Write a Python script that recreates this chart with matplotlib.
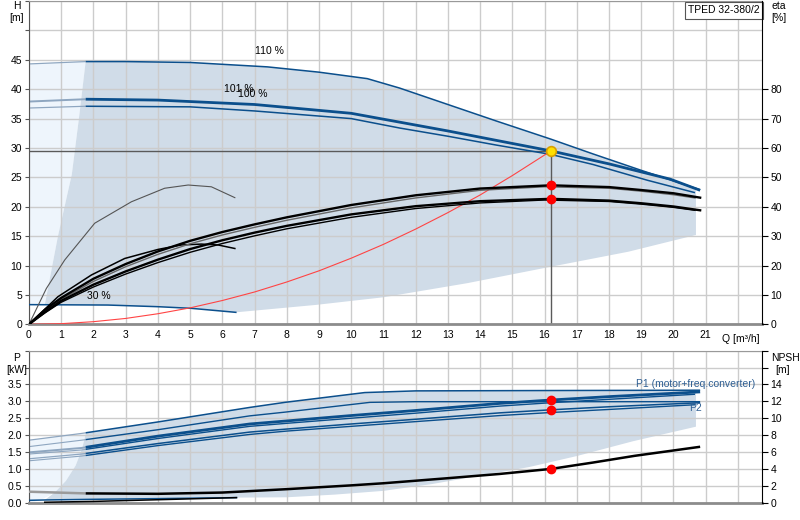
import numpy as np
import matplotlib.pyplot as plt

plt.rcParams['font.family'] = ['Liberation Sans', 'DejaVu Sans']
plt.rcParams['font.size'] = 7.5

BLUE = '#0b4f8c'
LIGHT = '#8ea6c0'
SHADE = '#d0dce8'
PALE = '#eef5fc'
GRID = '#cccccc'

# ---------------- H-Q curves [m] ----------------
q110 = [0, 1.76, 3, 5, 7.4, 9, 10.5, 11.5, 13, 14.5, 16.2, 17.5, 19, 20.83]
h110 = [44.3, 44.7, 44.7, 44.55, 43.8, 42.9, 41.8, 40.2, 37.4, 34.6, 31.5, 29.0, 26.2, 22.9]
q101 = [0, 1.76, 4, 7, 10, 11.5, 13, 14.5, 16.2, 18, 19.9, 20.83]
h101 = [37.9, 38.3, 38.15, 37.4, 35.9, 34.4, 32.9, 31.3, 29.5, 27.3, 24.7, 22.8]
q100 = [0, 1.76, 5, 7, 10, 11.5, 13, 14.5, 16.2, 17.5, 19.2, 20.67]
h100 = [36.8, 37.1, 37.0, 36.3, 35.0, 33.4, 32.0, 30.5, 28.9, 27.2, 24.5, 22.4]
q30 = [0, 1, 2.45, 4, 5.04, 6.42]
h30 = [3.35, 3.32, 3.28, 3.0, 2.72, 2.04]

# system curve
q_sys = [0, 1, 2, 3, 4, 5, 6, 7, 8, 9, 10, 11, 12, 13, 14, 15, 16.2]
h_sys = [0, 0.11, 0.45, 1.0, 1.8, 2.8, 4.05, 5.5, 7.2, 9.1, 11.25, 13.6, 16.2, 19.0, 22.0, 25.3, 29.5]

# operating range limits (top)
bq_top = [0.49, 0.9, 1.33, 1.55, 1.76]
bh_top = [3.3, 15, 25.5, 35, 44.7]
eq_top = [6.42, 8.9, 11, 13.6, 16.2, 18.6, 20.7]
eh_top = [2.04, 3.3, 4.6, 7.0, 9.8, 12.35, 15.2]

# ---------------- efficiency [%] ----------------
q_eta_a = [0, 0.5, 1, 2, 3, 4, 5, 6, 7, 8, 10, 12, 14, 16.2, 18, 19, 20, 20.83]
eta_a = [0, 5, 9, 15.5, 20.5, 24.8, 28.4, 31.4, 34.0, 36.4, 40.6, 43.9, 46.2, 47.3, 46.7, 45.7, 44.6, 43.1]
q_eta_b = [0, 0.5, 1, 2, 3, 4, 5, 6, 7, 8, 10, 12, 14, 16, 18, 19, 20, 20.67]
eta_b = [0, 4.6, 8.5, 14.6, 19.6, 23.8, 27.4, 30.4, 33.0, 35.4, 39.6, 43.0, 45.6, 46.8, 46.3, 45.3, 44.1, 43.0]
q_eta_c = [0, 0.5, 1, 2, 3, 4, 5, 6, 7, 8, 10, 12, 14, 16.2, 18, 19, 20, 20.83]
eta_c = [0, 4.2, 8, 13.5, 18, 22, 25.6, 28.6, 31.2, 33.5, 37.4, 40.2, 41.9, 42.7, 42.1, 41.2, 40.1, 38.8]
q_eta_d = [0, 0.5, 1, 2, 3, 4, 5, 6, 7, 8, 10, 12, 14, 16, 18, 19, 20, 20.67]
eta_d = [0, 3.9, 7.5, 12.7, 17.1, 21, 24.5, 27.5, 30.1, 32.5, 36.4, 39.4, 41.3, 42.3, 41.8, 40.9, 39.8, 38.8]
q_hump1 = [0, 0.54, 1.11, 2.04, 3.18, 4.21, 4.94, 5.66, 6.39]
eta_hump1 = [0, 12.2, 21.9, 34.4, 41.7, 46.3, 47.4, 46.8, 43.1]
q_hump2 = [0, 0.9, 1.94, 2.97, 4.01, 4.73, 5.35, 5.87, 6.39]
eta_hump2 = [0, 9.4, 16.8, 22.4, 25.5, 27.0, 27.3, 27.0, 25.8]

# ---------------- power [kW] ----------------
qp110_1 = [0, 1.63, 4, 6.85, 7.94, 10.42, 12, 16, 20.83]
p110_1 = [1.85, 2.05, 2.39, 2.82, 2.97, 3.26, 3.31, 3.32, 3.33]
qp110_2 = [0, 1.63, 4, 6.85, 7.94, 10.58, 12, 16, 20.83]
p110_2 = [1.66, 1.85, 2.16, 2.57, 2.68, 2.97, 2.99, 2.99, 2.99]
qp101 = [0, 1.63, 4, 6.85, 8, 10, 12, 14.62, 16.2, 18, 20.83]
p101_1 = [1.49, 1.62, 1.97, 2.33, 2.42, 2.58, 2.73, 2.94, 3.04, 3.14, 3.28]
p101_2 = [1.30, 1.44, 1.75, 2.09, 2.18, 2.33, 2.47, 2.66, 2.75, 2.84, 2.96]
qp100 = [0, 1.63, 4, 6.85, 8, 10, 12, 14.62, 16.2, 18, 20.67]
p100_1 = [1.44, 1.56, 1.90, 2.26, 2.35, 2.50, 2.65, 2.86, 2.96, 3.06, 3.21]
p100_2 = [1.24, 1.38, 1.69, 2.02, 2.12, 2.26, 2.40, 2.58, 2.67, 2.76, 2.90]
qp30 = [0, 0.49, 2, 4, 6.44]
p30 = [0.07, 0.08, 0.10, 0.12, 0.15]

bq_bot = [0.1, 0.45, 0.8, 1.15, 1.45, 1.65, 1.76]
bp_bot = [0, 0.12, 0.3, 0.65, 1.1, 1.6, 2.03]
eq_bot = [6.44, 8, 9.5, 11, 12.5, 14, 15.5, 17, 18.75, 20.7]
ep_bot = [0.15, 0.16, 0.24, 0.35, 0.55, 0.8, 1.05, 1.38, 1.82, 2.25]

# ---------------- NPSH [m] ----------------
q_npsh = [0, 1.76, 4, 6, 8, 10, 11, 13, 14.6, 16.2, 17.5, 18.8, 20.83]
npsh = [1.3, 1.1, 1.05, 1.2, 1.6, 2.05, 2.3, 2.9, 3.4, 4.0, 4.75, 5.55, 6.62]
q_npsh30 = [0.49, 2, 4, 6.44]
npsh30 = [0.05, 0.15, 0.35, 0.6]

# duty point
q_duty = 16.2
h_duty = 29.5
eta_duty = [47.3, 42.7]
p_duty = [3.04, 2.75]
npsh_duty = 4.02

q_min = 1.76
q_max = 20.7
xmax = 22.75


def split_plot(ax, q, v, color, lw, light=LIGHT, light_lw=None):
    q = np.asarray(q, float)
    v = np.asarray(v, float)
    vc = np.interp(q_min, q, v)
    lo = q < q_min
    ax.plot(np.r_[q[lo], q_min], np.r_[v[lo], vc], color=light,
            lw=light_lw or lw * 0.8, solid_capstyle='butt', zorder=2)
    hi = q > q_min
    ax.plot(np.r_[q_min, q[hi]], np.r_[vc, v[hi]], color=color, lw=lw,
            solid_capstyle='butt', zorder=3)


def shade_polygon(qt, vt, eq, ev, qb, vb, bq, bv):
    # top curve from q_min to q_max, right edge, bottom edge, low curve, boundary
    qt = np.asarray(qt, float); vt = np.asarray(vt, float)
    inner = (qt > q_min) & (qt < q_max)
    top_q = np.r_[q_min, qt[inner], q_max]
    top_v = np.interp(top_q, qt, vt)
    qb = np.asarray(qb, float); vb = np.asarray(vb, float)
    inb = (qb > bq[0]) & (qb < eq[0])
    low_q = np.r_[bq[0], qb[inb], eq[0]]
    low_v = np.interp(low_q, qb, vb)
    xs = np.r_[top_q, eq[::-1], low_q[::-1], bq]
    ys = np.r_[top_v, ev[::-1], low_v[::-1], bv]
    return xs, ys


def style_axes(ax):
    ax.set_xlim(0, xmax)
    ax.set_xticks(np.arange(0, 23, 1))
    ax.set_axisbelow(True)
    ax.grid(True, color=GRID, lw=1.0)
    ax.spines['left'].set_color('#555555')
    ax.spines['top'].set_color('#999999')
    ax.spines['bottom'].set_color('#8c8c8c')
    ax.spines['bottom'].set_linewidth(2)
    ax.spines['right'].set_visible(False)
    ax.tick_params(axis='x', length=0, pad=4)
    ax.tick_params(axis='y', length=3, width=0.8, color='#555555', pad=2)


fig = plt.figure(figsize=(8, 5.2), dpi=100)

# ================= top panel =================
ax = fig.add_axes([0.0362, 0.3763, 0.9163, 0.6217])
style_axes(ax)
ax.set_ylim(0, 55)
ax.set_yticks(np.arange(0, 56, 5))
ax.set_yticklabels([str(v) if v <= 45 else '' for v in range(0, 56, 5)])
ax.set_xticklabels([str(v) for v in range(0, 22)] + [''])

# pale (outside range) and shaded (operating range) areas
pq = np.r_[0, np.asarray(q110)[np.asarray(q110) < q_min], q_min, bq_top[::-1], np.asarray(q30)[np.asarray(q30) < bq_top[0]][::-1]]
ph = np.r_[h110[0], np.asarray(h110)[np.asarray(q110) < q_min], np.interp(q_min, q110, h110), bh_top[::-1],
           np.asarray(h30)[np.asarray(q30) < bq_top[0]][::-1]]
ax.fill(pq, ph, color=PALE, lw=0, zorder=0.2)
xs, ys = shade_polygon(q110, h110, eq_top, eh_top, q30, h30, bq_top, bh_top)
ax.fill(xs, ys, color=SHADE, lw=0, zorder=0.3)

split_plot(ax, q110, h110, BLUE, 1.1)
split_plot(ax, q101, h101, BLUE, 2.0, light_lw=1.4)
split_plot(ax, q100, h100, BLUE, 1.1)
ax.plot(q30, h30, color=BLUE, lw=1.1, zorder=3)
ax.plot(q_sys, h_sys, color='#ff4444', lw=0.8, zorder=3)

ax.plot([0, q_duty], [h_duty, h_duty], color='#5a5a5a', lw=1.0, zorder=2.5)
ax.plot([q_duty, q_duty], [0, h_duty], color='#5a5a5a', lw=1.0, zorder=2.5)

ax.text(7.0, 46.0, '110 %', fontsize=7.5)
ax.text(6.05, 39.6, '101 %', fontsize=7.5)
ax.text(6.5, 38.6, '100 %', fontsize=7.5)
ax.text(1.79, 4.3, '30 %', fontsize=7.5)

ax.text(21.5, -0.031, 'Q [m³/h]', transform=ax.get_xaxis_transform(), va='top', ha='left', fontsize=7.5)
ax.text(-0.017, 0.985, 'H', transform=ax.transAxes, ha='center', va='center', fontsize=7.5)
ax.text(-0.017, 0.948, '[m]', transform=ax.transAxes, ha='center', va='center', fontsize=7.5)
ax.text(0.997, 0.987, 'TPED 32-380/2', transform=ax.transAxes, ha='right', va='top', fontsize=7.5,
        bbox=dict(boxstyle='square,pad=0.35', fc='white', ec='#555555', lw=0.8), zorder=6)

ax_eta = ax.twinx()
ax_eta.set_ylim(0, 110)
ax_eta.set_yticks(np.arange(0, 81, 10))
for s in ['left', 'top', 'bottom']:
    ax_eta.spines[s].set_visible(False)
ax_eta.spines['right'].set_color('black')
ax_eta.tick_params(axis='y', length=4, width=0.8, color='black', pad=2)

ax_eta.plot(q_hump1, eta_hump1, color='#555555', lw=0.8)
ax_eta.plot(q_hump2, eta_hump2, color='black', lw=1.1)
ax_eta.plot(q_eta_b, eta_b, color='#666666', lw=1.0)
ax_eta.plot(q_eta_d, eta_d, color='black', lw=1.0)
ax_eta.plot(q_eta_a, eta_a, color='black', lw=1.7)
ax_eta.plot(q_eta_c, eta_c, color='black', lw=1.7)
ax_eta.plot([q_duty] * 2, eta_duty, 'o', color='red', ms=6, zorder=5)
ax.plot(q_duty, h_duty, 'o', ms=7, mfc='#ffe000', mec='#d9a000', mew=1.2, zorder=6)
ax_eta.text(1.013, 0.985, 'eta', transform=ax_eta.transAxes, ha='left', va='center', fontsize=7.5)
ax_eta.text(1.013, 0.948, '[%]', transform=ax_eta.transAxes, ha='left', va='center', fontsize=7.5)

# ================= bottom panel =================
axp = fig.add_axes([0.0362, 0.0333, 0.9163, 0.2923])
style_axes(axp)
axp.set_ylim(0, 4.5)
axp.set_yticks(np.arange(0, 4.51, 0.5))
axp.set_yticklabels(['%.1f' % v if v <= 3.5 else '' for v in np.arange(0, 4.51, 0.5)])
axp.set_xticklabels([])

pq = np.r_[0, 0, np.asarray(qp110_1)[np.asarray(qp110_1) < q_min], q_min, bq_bot[::-1]]
pp = np.r_[0, p110_1[0], np.asarray(p110_1)[np.asarray(qp110_1) < q_min], np.interp(q_min, qp110_1, p110_1), bp_bot[::-1]]
axp.fill(pq, pp, color=PALE, lw=0, zorder=0.2)
xs, ys = shade_polygon(qp110_1, p110_1, eq_bot, ep_bot, qp30, p30, [0.49] + bq_bot[2:], [0.08] + bp_bot[2:])
axp.fill(xs, ys, color=SHADE, lw=0, zorder=0.3)

split_plot(axp, qp110_1, p110_1, BLUE, 1.1)
split_plot(axp, qp110_2, p110_2, BLUE, 1.0)
split_plot(axp, qp100, p100_1, BLUE, 1.0)
split_plot(axp, qp101, p101_1, BLUE, 2.0, light_lw=1.4)
split_plot(axp, qp100, p100_2, BLUE, 1.0)
split_plot(axp, qp101, p101_2, BLUE, 1.1)
axp.plot(qp30, p30, color=BLUE, lw=1.1, zorder=3)
axp.plot([q_duty] * 2, p_duty, 'o', color='red', ms=6, zorder=5)

axp.text(18.85, 3.38, 'P1 (motor+freq.converter)', color='#2f5f93', fontsize=7.5, va='bottom')
axp.text(20.5, 2.66, 'P2', color='#2f5f93', fontsize=7.5, va='bottom')
axp.text(-0.017, 0.955, 'P', transform=axp.transAxes, ha='center', va='center', fontsize=7.5)
axp.text(-0.017, 0.875, '[kW]', transform=axp.transAxes, ha='center', va='center', fontsize=7.5)

ax_n = axp.twinx()
ax_n.set_ylim(0, 18)
ax_n.set_yticks(np.arange(0, 19, 2))
ax_n.set_yticklabels([str(v) if v <= 14 else '' for v in range(0, 19, 2)])
for s in ['left', 'top', 'bottom']:
    ax_n.spines[s].set_visible(False)
ax_n.spines['right'].set_color('black')
ax_n.tick_params(axis='y', length=4, width=0.8, color='black', pad=2)

split_plot(ax_n, q_npsh, npsh, 'black', 1.8, light='#9a9a9a', light_lw=1.8)
ax_n.plot(q_npsh30, npsh30, color='black', lw=1.1)
ax_n.plot(q_duty, npsh_duty, 'o', color='red', ms=6, zorder=5)
ax_n.text(1.013, 0.955, 'NPSH', transform=ax_n.transAxes, ha='left', va='center', fontsize=7.5)
ax_n.text(1.018, 0.875, '[m]', transform=ax_n.transAxes, ha='left', va='center', fontsize=7.5)

fig.savefig('out.png', dpi=100)
